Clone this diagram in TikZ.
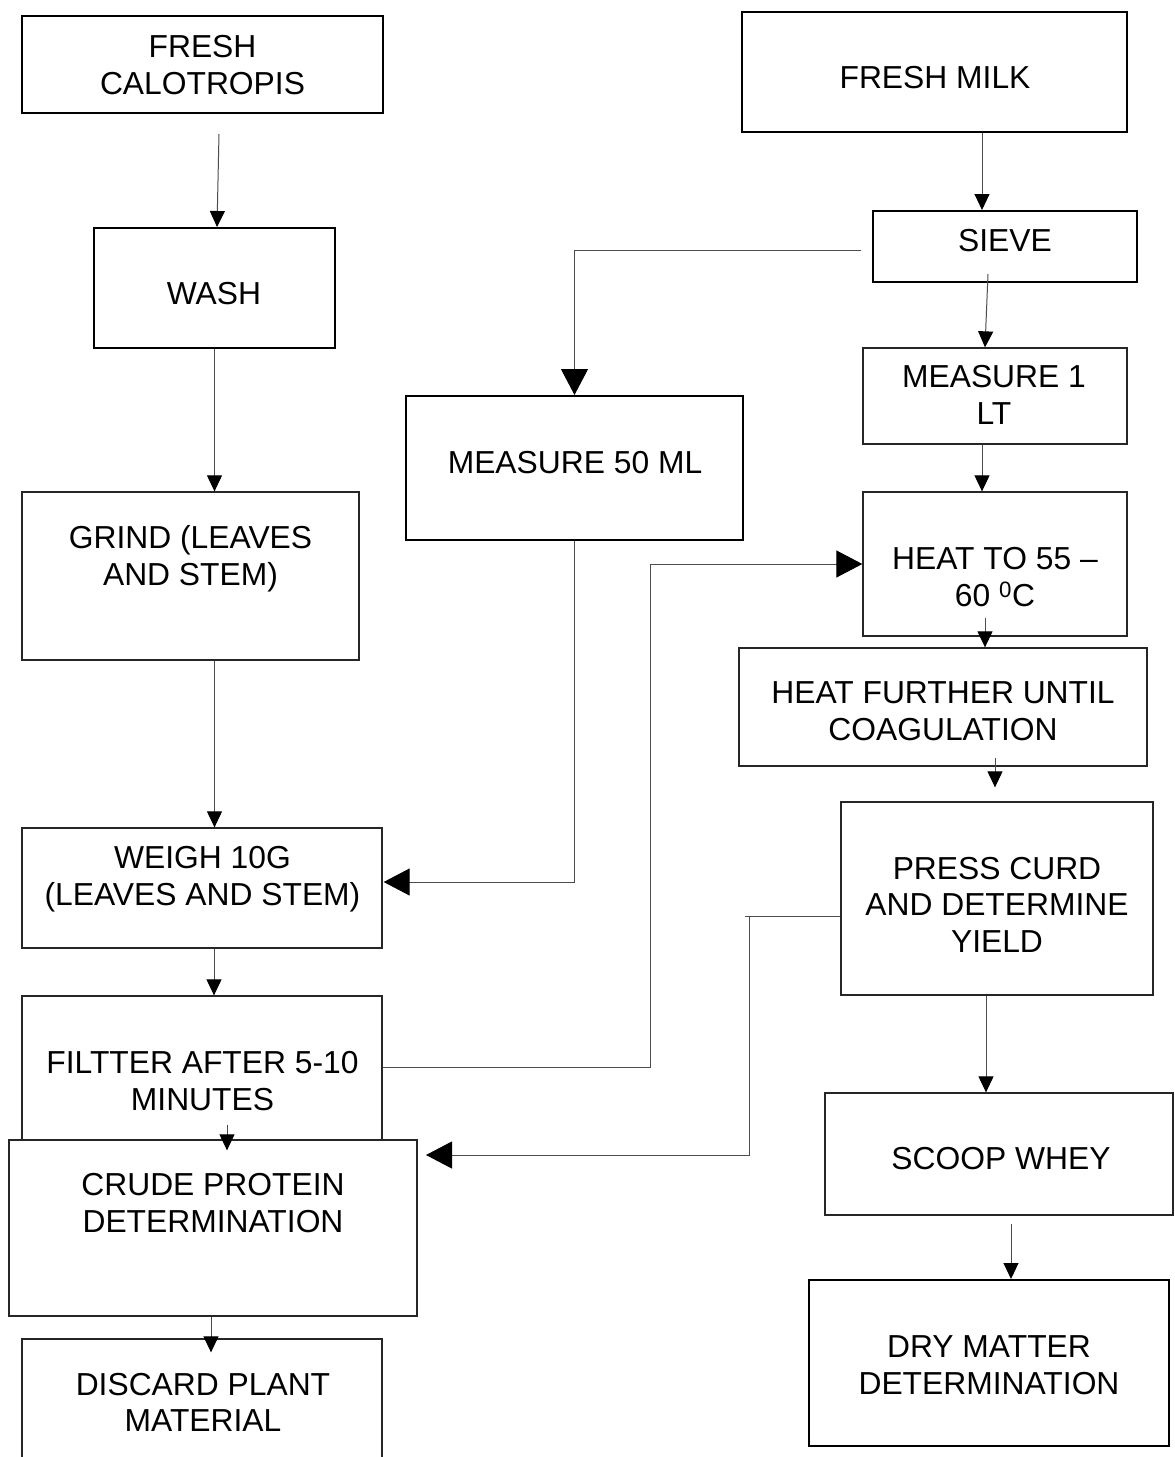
\documentclass[tikz,border=0pt]{standalone}
\usepackage{fontspec}
\setmainfont{Liberation Sans}
\usetikzlibrary{arrows.meta,calc}
\begin{document}
\begin{tikzpicture}[x=1pt,y=-1pt,
  box/.style={draw=black!85, line width=1.3pt, inner sep=0pt},
  tbox/.style={draw=black, line width=2pt, inner sep=0pt},
  txt/.style={font=\fontsize{31.8pt}{36.6pt}\selectfont, align=center, inner sep=0pt},
  conn/.style={draw=black!70, line width=1pt},
  sarr/.style={conn, -{Triangle[length=16pt,width=15pt,color=black]}},
  barr/.style={conn, -{Triangle[length=26pt,width=27pt,color=black]}}]
\useasboundingbox (0,0) rectangle (1175,1457);
\clip (0,0) rectangle (1175,1457);
% ---------- boxes, left column
\node[tbox, minimum width=361pt, minimum height=97pt]  (calo)    at (202.5,64.5) {};
\node[tbox, minimum width=241pt, minimum height=120pt] (wash)    at (214.5,288) {};
\node[box,  minimum width=337pt, minimum height=168pt] (grind)   at (190.5,576) {};
\node[box,  minimum width=360pt, minimum height=120pt] (weigh)   at (202,888) {};
\node[box,  minimum width=360pt, minimum height=144pt] (filt)    at (202,1068) {};
\node[box,  minimum width=408pt, minimum height=176pt] (crude)   at (213,1228) {};
\node[box,  minimum width=360pt, minimum height=141pt] (discard) at (202,1409.5) {};
% ---------- middle
\node[tbox, minimum width=337pt, minimum height=144pt] (m50)     at (574.5,468) {};
% ---------- right column
\node[tbox, minimum width=385pt, minimum height=120pt] (milk)    at (934.5,72) {};
\node[tbox, minimum width=264pt, minimum height=71pt]  (sieve)   at (1005,246.5) {};
\node[box,  minimum width=264pt, minimum height=96pt]  (m1)      at (995,396) {};
\node[box,  minimum width=264pt, minimum height=144pt] (heat)    at (995,564) {};
\node[box,  minimum width=408pt, minimum height=118pt] (hfur)    at (943,707) {};
\node[box,  minimum width=312pt, minimum height=193pt] (press)   at (997,898.5) {};
\node[box,  minimum width=348pt, minimum height=122pt] (scoop)   at (999,1154) {};
\node[tbox, minimum width=360pt, minimum height=166pt] (dry)     at (989,1363) {};
% ---------- texts
\node[txt] (tcalo)    at (202.5,65)   {FRESH\\CALOTROPIS};
\node[txt] (twash)    at (214,293.5)  {WASH};
\node[txt] (tgrind)   at (190.5,559)  {GRIND (LEAVES\\AND STEM)};
\node[txt] (tweigh)   at (202.5,879)  {WEIGH 10G\\(LEAVES AND STEM)};
\node[txt] (tfilt)    at (202.5,1081) {FILTTER AFTER 5-10\\MINUTES};
\node[txt] (tcrude)   at (213,1203)   {CRUDE PROTEIN\\DETERMINATION};
\node[txt] (tdiscard) at (203,1402.5) {DISCARD PLANT\\MATERIAL};
\node[txt] (tm50)     at (575,462.5)  {MEASURE 50 ML};
\node[txt] (tmilk)    at (935,78)     {FRESH MILK};
\node[txt] (tsieve)   at (1005,241)   {SIEVE};
\node[txt] (tm1)      at (994,395)    {MEASURE 1\\LT};
\node[txt] (theat)    at (995,577)    {HEAT TO 55 --\\60 \textsuperscript{0}C};
\node[txt] (thfur)    at (943,711)    {HEAT FURTHER UNTIL\\COAGULATION};
\node[txt] (tpress)   at (997,904.5)  {PRESS CURD\\AND DETERMINE\\YIELD};
\node[txt] (tscoop)   at (1001,1159)  {SCOOP WHEY};
\node[txt] (tdry)     at (989,1365)   {DRY MATTER\\DETERMINATION};
% ---------- left column connectors
\draw[sarr] ([xshift=16.5pt,yshift=-20pt]calo.south) -- ([xshift=2.5pt]wash.north);
\draw[sarr] (wash.south) -- ([xshift=24pt]grind.north);
\draw[sarr] ([xshift=24pt]grind.south) -- ([xshift=12.5pt]weigh.north);
\draw[sarr] ([xshift=12pt]weigh.south) -- ([xshift=12pt]filt.north);
\draw[sarr] ([xshift=25pt,yshift=16pt]filt.south) -- ([xshift=14pt,yshift=-11pt]crude.north);
\draw[sarr] ([xshift=-2pt]crude.south) -- ([xshift=9pt,yshift=-14pt]discard.north);
% ---------- right column connectors
\draw[sarr] ([xshift=47.5pt]milk.south) -- ([xshift=-23pt]sieve.north);
\draw[sarr] ([xshift=-17pt,yshift=9pt]sieve.south) -- ([xshift=-10pt]m1.north);
\draw[sarr] ([xshift=-13pt]m1.south) -- ([xshift=-13pt]heat.north);
\draw[sarr] ([xshift=-10pt,yshift=19pt]heat.south) -- ([xshift=42pt]hfur.north);
\draw[sarr] ([xshift=52pt,yshift=9pt]hfur.south) -- ([xshift=-2pt,yshift=14pt]press.north);
\draw[sarr] ([xshift=-11pt]press.south) -- ([xshift=-13pt]scoop.north);
\draw[sarr] ([xshift=12pt,yshift=-8pt]scoop.south) -- ([xshift=22pt]dry.north);
% ---------- cross connectors
\draw[barr] ([xshift=-11pt,yshift=-3.5pt]sieve.west) -| (m50.north);
\draw[barr] (m50.south) |- ([xshift=1pt,yshift=6pt]weigh.east);
\draw[barr] ([yshift=1pt]filt.east) -- ++(268,0) |- (heat.west);
\coordinate (pcbend) at (749,916);
\coordinate (pctip) at (426,1155);
\draw[barr] ([yshift=-17.5pt]press.west) -- (pcbend) |- (pctip);
\draw[conn] (pcbend) -- ++(-4,0);
\end{tikzpicture}
\end{document}
